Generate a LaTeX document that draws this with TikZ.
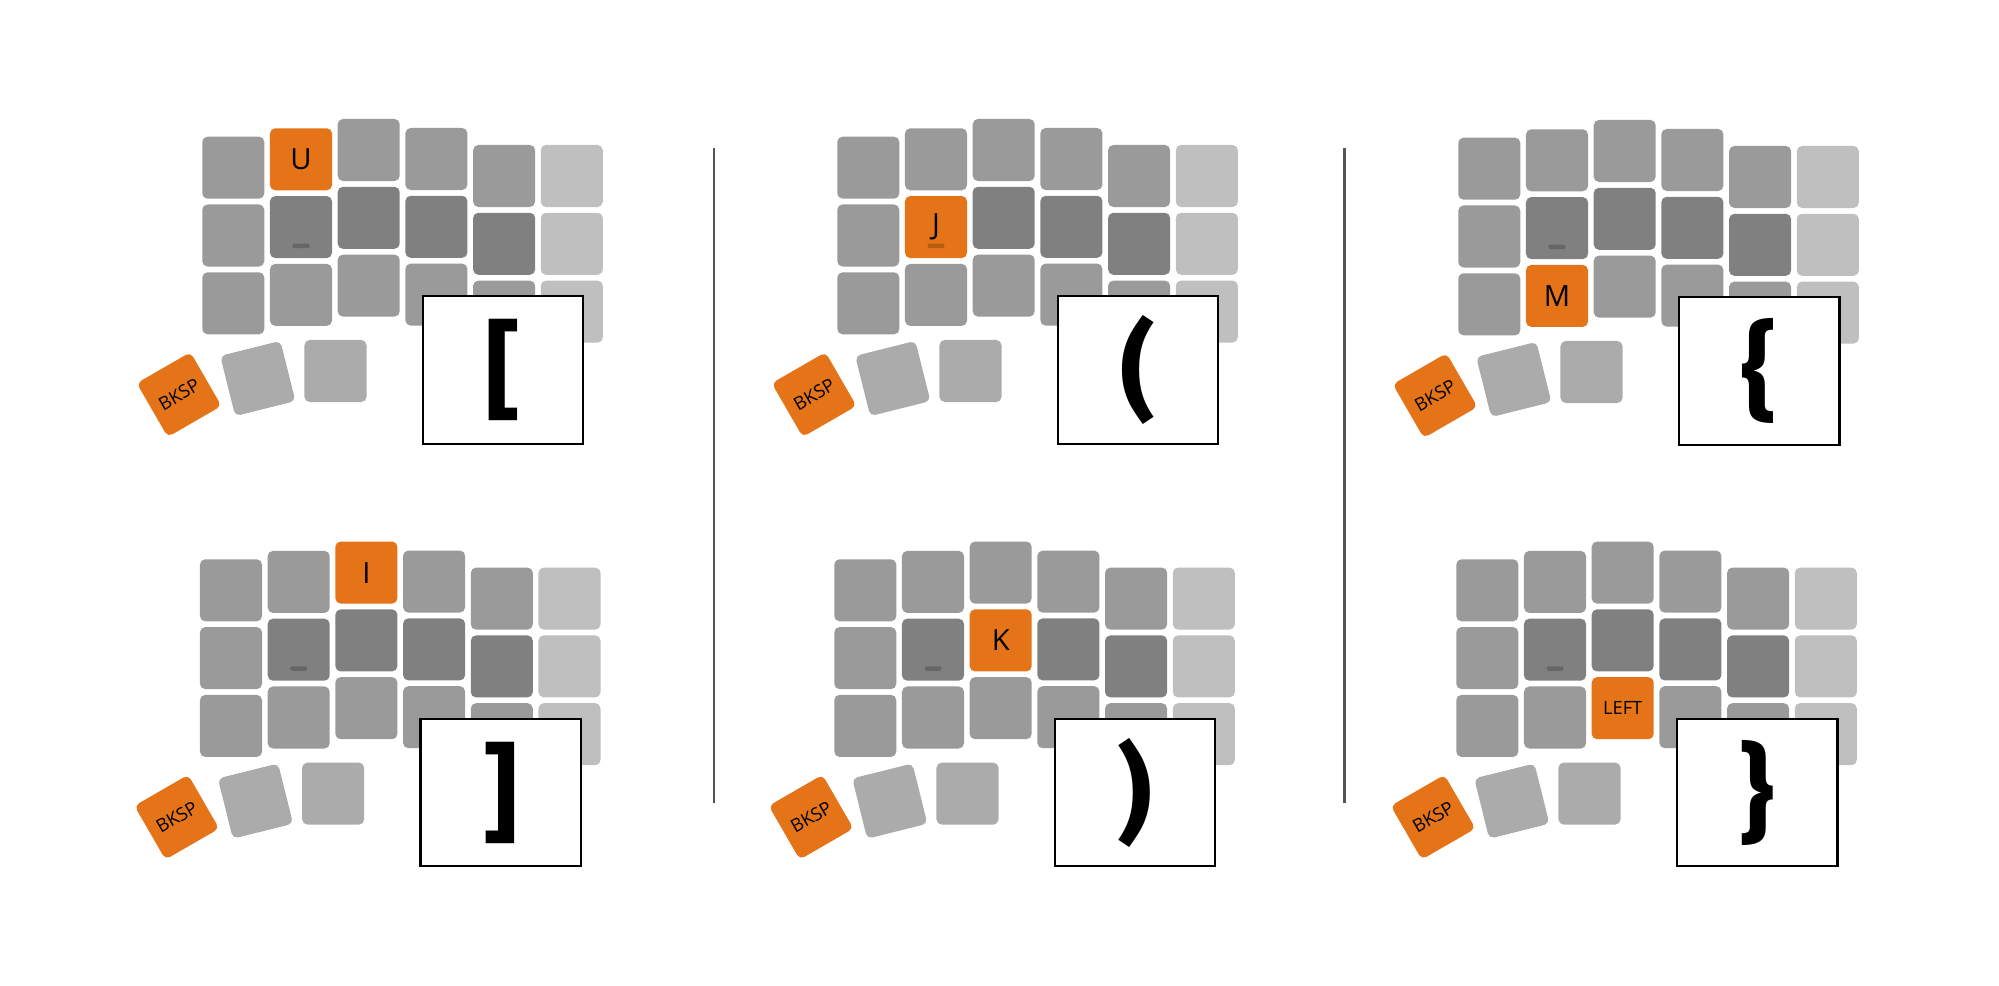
\documentclass[tikz,border=0pt]{standalone}
\usepackage{fontspec}
\newfontfamily\keyfont{Open Sans}
\newfontfamily\symfont{Fira Sans}
\definecolor{keymid}{HTML}{9A9A9A}
\definecolor{keydark}{HTML}{808080}
\definecolor{keylight}{HTML}{BFBFBF}
\definecolor{keythumb}{HTML}{ABABAB}
\definecolor{keyhi}{HTML}{E57317}
\definecolor{divline}{HTML}{555555}
\tikzset{
  key/.style={rectangle, rounded corners=1.5pt, minimum size=0.62cm, inner sep=0pt, text=black},
  homebar/.style={rectangle, rounded corners=0.6pt, minimum width=0.17cm, minimum height=0.045cm, inner sep=0pt, fill=black, fill opacity=0.2},
  symbox/.style={draw, line width=0.65pt, fill=white, minimum width=1.605cm, minimum height=1.475cm, inner sep=0pt, font=\symfont\bfseries\fontsize{30.5}{30.5}\selectfont},
  divider/.style={divline, line width=0.75pt}
}

\begin{document}
\begin{tikzpicture}[x=0.01cm, y=-0.01cm]
    \useasboundingbox (0,0) rectangle (1999,986);
    % one half keyboard per panel: origin = top left of inner column
    \foreach \n/\px/\py/\hc/\hr/\lab/\ls/\sym in {1/202.3/136.7/1/0/U/8.3/[, 2/837.3/136.7/1/1/J/8.3/(, 3/1458.3/137.7/1/2/M/8.3/\{,
        4/200/559.3/2/0/I/8.3/], 5/834.3/559.3/2/1/K/8.3/), 6/1456.3/559.3/2/2/LEFT/5.2/\}}
    {
        \foreach \c/\dy in {0/0, 1/-8.4, 2/-17.7, 3/-8.7, 4/8.3, 5/8.3}
            \foreach \r in {0,1,2} {
                \def\kfill{keymid}\def\klab{}
                \ifnum\c=5 \def\kfill{keylight}\fi
                \ifnum\r=1 \ifnum\c>0 \ifnum\c<5 \def\kfill{keydark}\fi\fi\fi
                \ifnum\c=\hc \ifnum\r=\hr \def\kfill{keyhi}\let\klab\lab\fi\fi
                \node[key, fill=\kfill, font=\keyfont\fontsize{\ls}{\ls}\selectfont] (p\n-\c-\r) at (\px+31+67.7*\c, \py+31+\dy+67.8*\r) {\klab};
            }
        \node[homebar] (p\n-bar) at ([yshift=-0.188cm]p\n-1-1.center) {};
        % thumb keys
        \node[key, fill=keyhi, rotate=30, font=\keyfont\fontsize{5.2}{5.2}\selectfont] (p\n-bksp) at (\px-23.2, \py+257.9) {BKSP};
        \node[key, fill=keythumb, rotate=14] (p\n-thumb) at (\px+55.5, \py+241.8) {};
        \node[key, fill=keythumb] (p\n-thumbin) at (\px+133.2, \py+234.3) {};
        \node[symbox] (p\n-sym) at (\px+300.75, \py+233.25) {\sym};
    }
    \coordinate (d1-top) at (714,148); \coordinate (d1-bot) at (714,803);
    \coordinate (d2-top) at (1344.7,148); \coordinate (d2-bot) at (1344.7,803);
    \draw[divider] (d1-top) -- (d1-bot);
    \draw[divider] (d2-top) -- (d2-bot);
\end{tikzpicture}
\end{document}
